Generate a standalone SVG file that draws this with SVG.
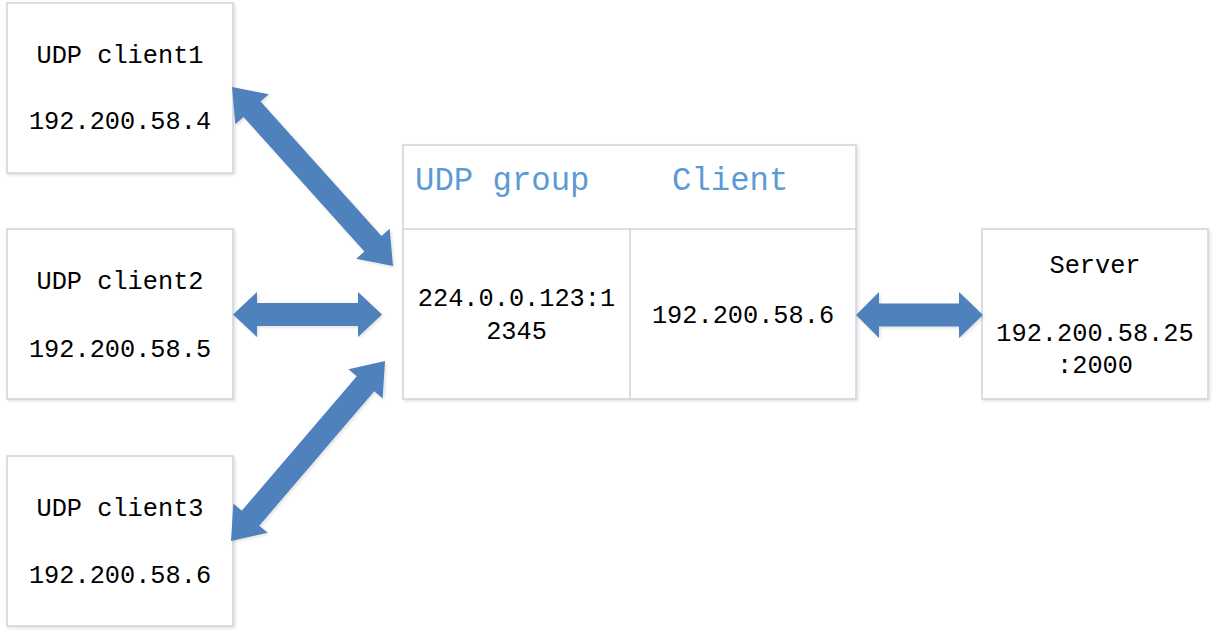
<svg xmlns="http://www.w3.org/2000/svg" width="1217" height="637" viewBox="0 0 1217 637">
<style>
.box{fill:#ffffff;stroke:#cfd3d8;stroke-width:1.5}
.t{font-family:"Liberation Mono","DejaVu Sans Mono",monospace;font-size:25.3px;fill:#000000;text-anchor:middle}
.h{font-family:"Liberation Mono","DejaVu Sans Mono",monospace;font-size:32.3px;fill:#5b9bd5}
.arr{fill:#4f81bd}
</style>
<defs>
<filter id="sh" x="-10%" y="-10%" width="130%" height="130%">
<feDropShadow dx="1.5" dy="1.5" stdDeviation="1.5" flood-color="#000" flood-opacity="0.12"/>
</filter>
</defs>
<rect width="1217" height="637" fill="#ffffff"/>
<g id="client1">
<rect class="box" x="7" y="3" width="226" height="170" filter="url(#sh)"/>
<text class="t" x="120" y="63">UDP client1</text>
<text class="t" x="120" y="129">192.200.58.4</text>
</g>
<g id="client2">
<rect class="box" x="7" y="229" width="226" height="170" filter="url(#sh)"/>
<text class="t" x="120" y="289">UDP client2</text>
<text class="t" x="120" y="357">192.200.58.5</text>
</g>
<g id="client3">
<rect class="box" x="7" y="456" width="226" height="170" filter="url(#sh)"/>
<text class="t" x="120" y="516">UDP client3</text>
<text class="t" x="120" y="583">192.200.58.6</text>
</g>
<g id="group">
<rect class="box" x="403" y="145" width="453" height="254" filter="url(#sh)"/>
<line x1="403" y1="229" x2="856" y2="229" stroke="#cfd3d8" stroke-width="1.5"/>
<line x1="630" y1="229" x2="630" y2="399" stroke="#cfd3d8" stroke-width="1.5"/>
<text class="h" x="415" y="190">UDP group</text>
<text class="h" x="672" y="190">Client</text>
<text class="t" x="516.5" y="306">224.0.0.123:1</text>
<text class="t" x="516.5" y="339">2345</text>
<text class="t" x="743" y="323">192.200.58.6</text>
</g>
<g id="server">
<rect class="box" x="982" y="229" width="226" height="170" filter="url(#sh)"/>
<text class="t" x="1095" y="273">Server</text>
<text class="t" x="1095" y="341">192.200.58.25</text>
<text class="t" x="1095" y="373">:2000</text>
</g>
<g id="connectors" filter="url(#sh)">
<polygon class="arr" transform="translate(232,87) rotate(48.03)" points="0,0 30,-22.5 30,-11.5 210.75,-11.5 210.75,-22.5 240.75,0 210.75,22.5 210.75,11.5 30,11.5 30,22.5"/>
<polygon class="arr" points="233,314.5 257,292 257,303 358,303 358,292 382,314.5 358,337 358,326 257,326 257,337"/>
<polygon class="arr" transform="translate(231,541) rotate(-49.45)" points="0,0 30,-22.5 30,-11.5 206.9,-11.5 206.9,-22.5 236.9,0 206.9,22.5 206.9,11.5 30,11.5 30,22.5"/>
<polygon class="arr" points="856,315 879,292 879,303.5 959,303.5 959,292 983,315 959,338 959,326.5 879,326.5 879,338"/>
</g>
</svg>
